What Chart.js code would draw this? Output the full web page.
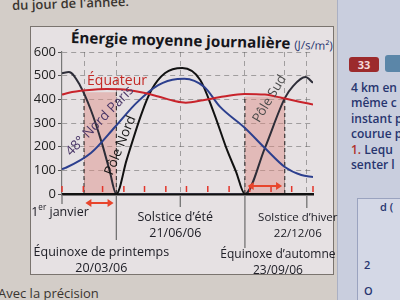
<!DOCTYPE html>
<html lang="fr">
<head>
<meta charset="utf-8">
<script src="https://cdn.jsdelivr.net/npm/chart.js@4.4.1/dist/chart.umd.min.js"></script>
<style>
  html, body { margin: 0; padding: 0; }
  body { width: 400px; height: 300px; overflow: hidden; position: relative; background: #d3cdc8; font-family: "Open Sans", sans-serif; }
  #box { position: absolute; left: 30px; top: 26px; width: 302px; height: 247px; border: 1px solid #7a746f; background: #e6e1e3; }
  #page2 { position: absolute; left: 337px; top: 0; width: 63px; height: 300px; background: #c9cede; border-left: 1px solid #aab0c4; }
  #page2 .num { position: absolute; left: 11px; top: 57px; width: 30px; height: 15px; background: #9c2a2c; color: #f3dada; font-size: 11px; font-weight: bold; text-align: center; line-height: 15px; border-radius: 3px; }
  #page2 .img { position: absolute; left: 47px; top: 55px; width: 20px; height: 17px; background: #5b86a8; border-radius: 3px; }
  #page2 .ln { position: absolute; left: 13px; font-size: 12px; font-weight: 600; color: #27356f; white-space: nowrap; }
  #page2 .mini { position: absolute; left: 19px; top: 198px; width: 50px; height: 110px; border: 1px solid #9aa3bf; background: #d4d8e6; }
  #page2 .mini span { position: absolute; font-size: 11px; color: #27356f; font-weight: 600; }
  #top { position: absolute; left: 12px; top: -6px; font-size: 13px; font-weight: 600; color: #3a3530; transform: rotate(-2deg); }
  #bottom { position: absolute; left: -2px; top: 284px; font-size: 13px; color: #3a3530; }
  #title { position: absolute; left: 71px; top: 27px; font-size: 15.2px; font-weight: bold; color: #15151a; white-space: nowrap; transform: rotate(1.5deg); transform-origin: left center; }
  #title span { font-size: 11.5px; font-weight: normal; color: #263570; }
  canvas { position: absolute; left: 0; top: 0; }
</style>
</head>
<body>
<div id="top">du jour de l'année.</div>
<div id="box"></div>
<div id="page2">
  <div class="num">33</div><div class="img"></div>
  <div class="ln" style="top:79px">4 km en</div>
  <div class="ln" style="top:94px">même c</div>
  <div class="ln" style="top:110px">instant p</div>
  <div class="ln" style="top:125px">courue p</div>
  <div class="ln" style="top:141px"><span style="color:#b0302c">1.</span> Lequ</div>
  <div class="ln" style="top:156px">senter l</div>
  <div class="mini"><span style="left:22px;top:0px">d (</span><span style="left:6px;top:58px">2</span><span style="left:6px;top:84px">O</span></div>
</div>
<div id="bottom">Avec la précision</div>
<div id="title">Énergie moyenne journalière <span>(J/s/m²)</span></div>
<canvas id="c" width="400" height="300"></canvas>
<script>
// x = jour de l'année (0 = 1er janvier)
const equateurDays = [0, 10, 35, 65, 90, 115, 140, 165, 180, 205, 235, 265, 295, 320, 345, 365];
const equateurVals = [420, 428, 438, 444, 442, 430, 412, 392, 386, 396, 412, 423, 420, 406, 390, 378];

const parisDays = [0, 5, 42, 77, 108, 140, 168, 178, 207, 230, 266, 295, 324, 348, 365];
const parisVals = [105, 110, 173, 283, 384, 460, 486, 487, 452, 368, 279, 194, 114, 80, 72];

const poleNordDays = [0, 79, 94, 116, 130, 150, 175, 201, 221, 240, 253, 266, 365];
const poleNordVals = [0, 0, 144, 342, 439, 511, 532, 482, 342, 186, 95, 0, 0];

const poleSudDays = [0, 10, 26, 42, 58, 69, 79, 266, 295, 324, 336, 354, 365];
const poleSudVals = [510, 515, 460, 355, 215, 101, 0, 0, 194, 405, 456, 494, 470];

const monthStarts = [0, 31, 59, 90, 120, 151, 181, 212, 243, 273, 304, 334, 365];
const keyDays = [32, 79, 172, 266, 324, 356];
const bands = [[32, 79, 430], [266, 324, 412]];

const dateMarks = [
  { day: 0, line: 10, lines: ['1er janvier'], dx: -2, dy: 18, size: 12.5 },
  { day: 79, line: 46, lines: ['Équinoxe de printemps', '20/03/06'], dx: -15, dy: 58, size: 12.5 },
  { day: 172, line: 13, lines: ['Solstice d’été', '21/06/06'], dx: -5, dy: 23, size: 12.5 },
  { day: 266, line: 54, lines: ['Équinoxe d’automne', '23/09/06'], dx: 33, dy: 61, size: 12 },
  { day: 356, line: 14, lines: ['Solstice d’hiver', '22/12/06'], dx: -9, dy: 24, size: 11.5 }
];

const curveLabels = [
  { text: 'Équateur', day: 80, val: 477, angle: 0, color: '#c42a26', size: 14 },
  { text: '48° Nord Paris', day: 55, val: 308, angle: -46, color: '#4b3768', size: 13.5 },
  { text: 'Pôle Nord', day: 85, val: 205, angle: -68, color: '#151515', size: 13.5 },
  { text: 'Pôle Sud', day: 302, val: 402, angle: -59, color: '#4a4a4a', size: 13 }
];

function series(label, days, vals, color) {
  return {
    label: label,
    data: days.map((d, i) => ({ x: d, y: vals[i] })),
    borderColor: color,
    borderWidth: 2,
    pointRadius: 0,
    cubicInterpolationMode: 'monotone',
    fill: false
  };
}

function arrow(ctx, x0, x1, y) {
  ctx.beginPath();
  ctx.moveTo(x0 + 3, y); ctx.lineTo(x1 - 3, y); ctx.stroke();
  ctx.beginPath();
  ctx.moveTo(x0, y); ctx.lineTo(x0 + 6, y - 4); ctx.lineTo(x0 + 6, y + 4); ctx.closePath();
  ctx.moveTo(x1, y); ctx.lineTo(x1 - 6, y - 4); ctx.lineTo(x1 - 6, y + 4); ctx.closePath();
  ctx.fill();
}

const decor = {
  id: 'decor',
  beforeDatasetsDraw(chart) {
    const { ctx, chartArea: a, scales: { x, y } } = chart;
    ctx.save();
    bands.forEach(b => {
      const x0 = x.getPixelForValue(b[0]), x1 = x.getPixelForValue(b[1]), yt = y.getPixelForValue(b[2]);
      ctx.fillStyle = 'rgba(222,140,130,0.45)';
      ctx.fillRect(x0, yt, x1 - x0, a.bottom - yt);
      ctx.strokeStyle = '#222';
      ctx.lineWidth = 1;
      ctx.setLineDash([4, 3]);
      [x0, x1].forEach(px => {
        ctx.beginPath(); ctx.moveTo(px, a.bottom); ctx.lineTo(px, yt); ctx.stroke();
      });
    });
    ctx.restore();
  },
  afterDraw(chart) {
    const { ctx, chartArea: a, scales: { x, y } } = chart;
    ctx.save();
    // red month ticks
    ctx.strokeStyle = '#e3342a';
    ctx.lineWidth = 1.5;
    monthStarts.forEach(d => {
      const px = x.getPixelForValue(d);
      ctx.beginPath(); ctx.moveTo(px, a.bottom - 8); ctx.lineTo(px, a.bottom - 2); ctx.stroke();
    });
    // arrows
    ctx.strokeStyle = '#e8452c';
    ctx.fillStyle = '#e8452c';
    ctx.lineWidth = 2;
    arrow(ctx, x.getPixelForValue(34), x.getPixelForValue(75), a.bottom + 9);
    arrow(ctx, x.getPixelForValue(270), x.getPixelForValue(320), a.bottom - 8);
    // date lines and labels
    dateMarks.forEach(m => {
      const px = x.getPixelForValue(m.day);
      ctx.strokeStyle = '#6a6a6a';
      ctx.lineWidth = 1.2;
      ctx.beginPath(); ctx.moveTo(px, a.bottom + 2); ctx.lineTo(px, a.bottom + m.line); ctx.stroke();
      ctx.fillStyle = '#202028';
      ctx.textAlign = 'center';
      ctx.textBaseline = 'middle';
      m.lines.forEach((t, i) => {
        const ty = a.bottom + m.dy + i * 16;
        if (t.startsWith('1er')) {
          const big = m.size + 'px "Open Sans"', small = (m.size * 0.65) + 'px "Open Sans"';
          ctx.font = big; const w1 = ctx.measureText('1').width, w3 = ctx.measureText(' janvier').width;
          ctx.font = small; const w2 = ctx.measureText('er').width;
          let sx = px + m.dx - (w1 + w2 + w3) / 2;
          ctx.textAlign = 'left';
          ctx.font = big; ctx.fillText('1', sx, ty);
          ctx.font = small; ctx.fillText('er', sx + w1, ty - 4);
          ctx.font = big; ctx.fillText(' janvier', sx + w1 + w2, ty);
          ctx.textAlign = 'center';
        } else {
          ctx.font = m.size + 'px "Open Sans"';
          ctx.fillText(t, px + m.dx, ty);
        }
      });
    });
    // curve labels
    curveLabels.forEach(l => {
      ctx.save();
      ctx.translate(x.getPixelForValue(l.day), y.getPixelForValue(l.val));
      ctx.rotate(l.angle * Math.PI / 180);
      ctx.font = l.size + 'px "Open Sans"';
      ctx.fillStyle = l.color;
      ctx.textAlign = 'center';
      ctx.textBaseline = 'middle';
      ctx.fillText(l.text, 0, 0);
      ctx.restore();
    });
    ctx.restore();
  }
};

Chart.defaults.font.family = '"Open Sans", sans-serif';

new Chart(document.getElementById('c'), {
  type: 'line',
  data: {
    datasets: [
      series('Équateur', equateurDays, equateurVals, '#c8232b'),
      series('48° Nord Paris', parisDays, parisVals, '#2c3f8e'),
      series('Pôle Nord', poleNordDays, poleNordVals, '#111111'),
      series('Pôle Sud', poleSudDays, poleSudVals, '#2d2d38')
    ]
  },
  options: {
    responsive: false,
    animation: false,
    layout: { padding: { top: 52, right: 87, left: 0, bottom: 0 } },
    plugins: { legend: { display: false }, tooltip: { enabled: false } },
    scales: {
      x: {
        type: 'linear', min: 0, max: 365,
        afterBuildTicks: s => { s.ticks = keyDays.map(v => ({ value: v })); },
        afterFit: s => { s.height = 106; },
        ticks: { display: false },
        grid: { color: 'rgba(90,90,90,0.5)', drawTicks: false },
        border: { color: '#111', width: 2.5, dash: [5, 4] }
      },
      y: {
        min: 0, max: 600,
        afterFit: s => { s.width = 62; },
        ticks: { stepSize: 100, color: '#222', font: { size: 13 }, padding: 2 },
        grid: { color: 'rgba(90,90,90,0.5)', tickLength: 4, tickColor: '#555' },
        border: { color: '#777', width: 1.2, dash: [5, 4] }
      }
    }
  },
  plugins: [decor]
});
</script>
</body>
</html>
